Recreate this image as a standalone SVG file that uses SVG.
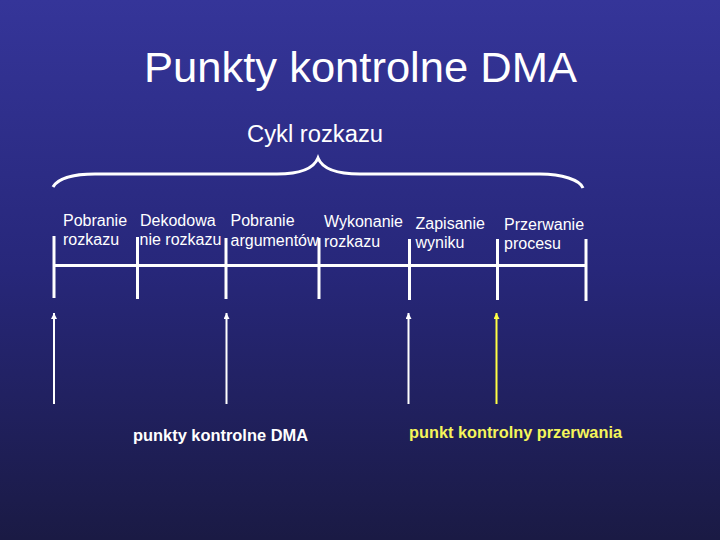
<svg xmlns="http://www.w3.org/2000/svg" width="720" height="540" viewBox="0 0 720 540">
<defs>
<linearGradient id="bg" x1="0" y1="0" x2="0" y2="1">
<stop offset="0" stop-color="#353599"/>
<stop offset="0.5" stop-color="#27277a"/>
<stop offset="1" stop-color="#1a1a44"/>
</linearGradient>
<marker id="ahW" viewBox="0 0 10 10" refX="10" refY="5" markerWidth="8" markerHeight="6" markerUnits="userSpaceOnUse" orient="auto">
<path d="M0,0 L10,5 L0,10 Z" fill="#ffffff"/>
</marker>
<marker id="ahY" viewBox="0 0 10 10" refX="10" refY="5" markerWidth="8" markerHeight="6" markerUnits="userSpaceOnUse" orient="auto">
<path d="M0,0 L10,5 L0,10 Z" fill="#ffff44"/>
</marker>
</defs>
<style>
text{font-family:"Liberation Sans",Arial,sans-serif;fill:#ffffff}
.stage{font-size:16px}
.lbl{font-size:16px;font-weight:bold}
.tick{stroke:#ffffff;stroke-width:3;fill:none}
.arrW{stroke:#ffffff;stroke-width:2;fill:none}
.arrY{stroke:#ffff44;stroke-width:2;fill:none}
</style>
<rect width="720" height="540" fill="url(#bg)"/>
<g id="title">
<text x="360.5" y="82" font-size="42" text-anchor="middle" textLength="433" lengthAdjust="spacingAndGlyphs">Punkty kontrolne DMA</text>
</g>
<g id="cycle">
<text x="247" y="142" font-size="23" textLength="136" lengthAdjust="spacingAndGlyphs">Cykl rozkazu</text>
<path d="M53,187 C58,178 75,174 95,174 L277,174 C300,174 314,168 318,158 C322,168 336,174 360,174 L540,174 C562,174 580,180 583,188" stroke="#ffffff" stroke-width="3" fill="none"/>
</g>
<g id="timeline">
<line class="tick" x1="54" y1="265.5" x2="586" y2="265.5"/>
<line class="tick" x1="54" y1="236" x2="54" y2="298"/>
<line class="tick" x1="137.5" y1="237" x2="137.5" y2="299"/>
<line class="tick" x1="226" y1="238" x2="226" y2="299"/>
<line class="tick" x1="319" y1="238" x2="319" y2="299"/>
<line class="tick" x1="409.5" y1="239" x2="409.5" y2="300"/>
<line class="tick" x1="497.5" y1="239" x2="497.5" y2="300"/>
<line class="tick" x1="586" y1="239" x2="586" y2="301"/>
</g>
<g id="stage1"><text class="stage" x="63" y="226">Pobranie</text><text class="stage" x="63" y="245">rozkazu</text></g>
<g id="stage2"><text class="stage" x="140" y="226">Dekodowa</text><text class="stage" x="139.5" y="245">nie rozkazu</text></g>
<g id="stage3"><text class="stage" x="230.5" y="226">Pobranie</text><text class="stage" x="230.5" y="246">argumentów</text></g>
<g id="stage4"><text class="stage" x="324" y="227">Wykonanie</text><text class="stage" x="324" y="246.5">rozkazu</text></g>
<g id="stage5"><text class="stage" x="415.5" y="229">Zapisanie</text><text class="stage" x="415.5" y="247.5">wyniku</text></g>
<g id="stage6"><text class="stage" x="504" y="229.5">Przerwanie</text><text class="stage" x="504" y="249">procesu</text></g>
<g id="connectors">
<line class="arrW" x1="54" y1="404" x2="54" y2="313" marker-end="url(#ahW)"/>
<line class="arrW" x1="226.5" y1="404" x2="226.5" y2="313" marker-end="url(#ahW)"/>
<line class="arrW" x1="408.5" y1="404" x2="408.5" y2="313" marker-end="url(#ahW)"/>
<line class="arrY" x1="496.5" y1="404" x2="496.5" y2="313" marker-end="url(#ahY)"/>
</g>
<g id="dma-label"><text class="lbl" x="133" y="441" textLength="175" lengthAdjust="spacingAndGlyphs">punkty kontrolne DMA</text></g>
<g id="int-label"><text class="lbl" x="409" y="438" textLength="213" lengthAdjust="spacingAndGlyphs" style="fill:#f5f55a">punkt kontrolny przerwania</text></g>
</svg>
